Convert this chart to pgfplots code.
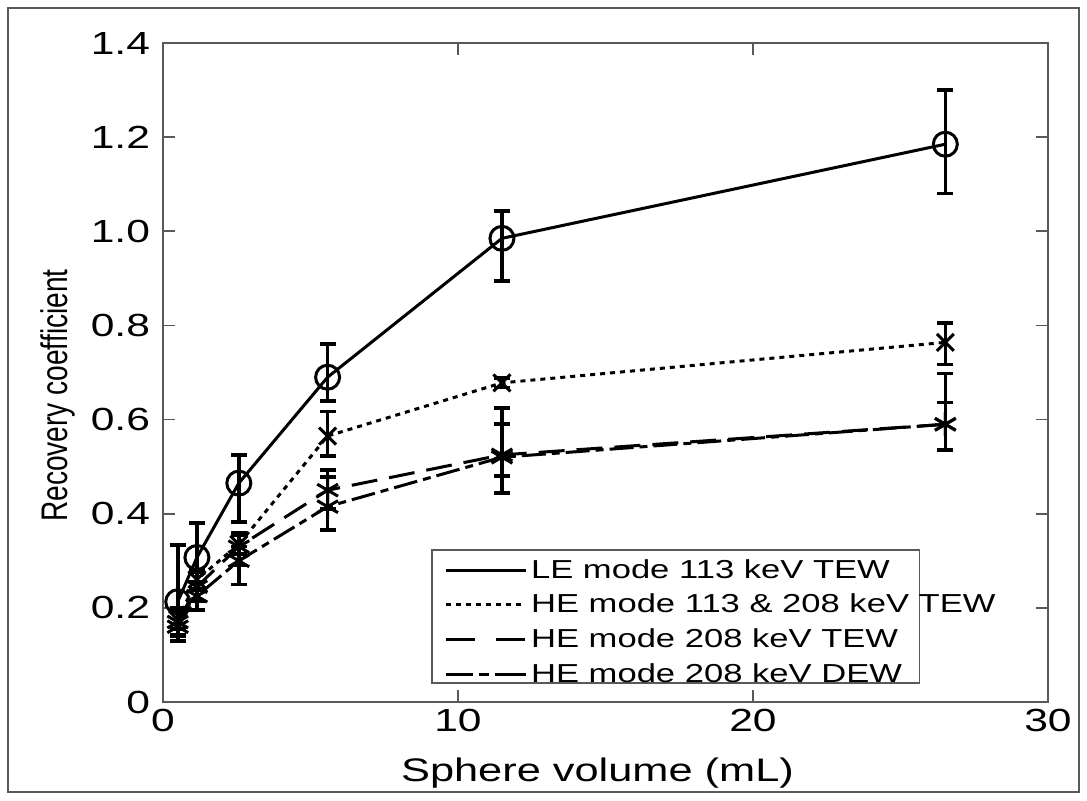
\documentclass[border=0pt]{standalone}
\usepackage{pgfplots}
\pgfplotsset{compat=1.18}
\usepackage{fontspec}
\setmainfont[FakeStretch=1.33]{Liberation Sans}
\newfontfamily\ylabfont[FakeStretch=0.76]{Liberation Sans}
\pgfplotsset{
  tewleg/.style={legend image code/.code={\draw[##1, dash pattern=on 14.5pt off 10.5pt] (0cm,0cm) -- (1.4cm,0cm);}},
  dewleg/.style={legend image code/.code={\draw[##1, dash pattern=on 13.5pt off 3pt on 5pt off 3pt on 16pt] (0cm,0cm) -- (1.4cm,0cm);}},
}
\begin{document}
\begin{tikzpicture}
\begin{axis}[
  scale only axis,
  width=442.5pt, height=329.5pt,
  xmin=0, xmax=30, ymin=0, ymax=1.4,
  xtick={0,10,20,30}, ytick={0,0.2,0.4,0.6,0.8,1.0,1.2,1.4},
  yticklabels={0,0.2,0.4,0.6,0.8,1.0,1.2,1.4},
  axis line style={gray!70!black, line width=0.8pt},
  tick style={gray!70!black, line width=0.8pt},
  tick align=inside, major tick length=6pt,
  minor tick num=0,
  /pgf/number format/assume math mode=true,
  ticklabel style={font=\fontsize{16}{18}\selectfont},
  yticklabel style={xshift=-3pt},
  xlabel={Sphere volume (mL)},
  ylabel={Recovery coefficient},
  xlabel style={font=\fontsize{16.3}{18}\selectfont, yshift=-6pt, xshift=-4pt},
  ylabel style={font=\ylabfont\fontsize{18.5}{20}\selectfont, at={(ticklabel cs:0.465)}, yshift=1pt},
  legend style={at={(0.304,0.231)}, anchor=north west, draw=none, fill=none,
    font=\fontsize{13}{15}\selectfont, row sep=2.5pt, inner xsep=6pt, inner ysep=2.5pt},
  legend cell align=left,
  legend image post style={mark=none},
  legend image code/.code={\draw[#1] (0cm,0cm) -- (1.4cm,0cm);},
  error bars/y dir=both, error bars/y explicit,
  error bars/error bar style={solid, line width=1.8pt},
  error bars/error mark options={rotate=90, mark size=4pt, line width=1.8pt, solid},
  every axis plot/.append style={black, line width=1.5pt},
]
\addplot[mark=o, mark size=6pt, mark options={solid, line width=1.5pt}] coordinates {
  (0.5,0.213) += (0,0.12) -= (0,0.07)
  (1.15,0.307) += (0,0.073) -= (0,0.07)
  (2.57,0.465) += (0,0.06) -= (0,0.083)
  (5.58,0.69) += (0,0.07) -= (0,0.05)
  (11.49,0.985) += (0,0.058) -= (0,0.09)
  (26.52,1.185) += (0,0.115) -= (0,0.105)
};
\addlegendentry{LE mode 113 keV TEW}
\addplot[dash pattern=on 2.5pt off 2.5pt, mark=x, mark size=6pt, mark options={solid, line width=1.5pt}] coordinates {
  (0.5,0.175) += (0,0.02) -= (0,0.02)
  (1.15,0.26) += (0,0.02) -= (0,0.02)
  (2.57,0.335) += (0,0.02) -= (0,0.02)
  (5.58,0.565) += (0,0.052) -= (0,0.042)
  (11.49,0.678) += (0,0.01) -= (0,0.01)
  (26.52,0.764) += (0,0.041) -= (0,0.047)
};
\addlegendentry{HE mode 113 \& 208 keV TEW}
\addplot[dash pattern=on 13pt off 6pt, mark=asterisk, mark size=6pt, mark options={solid, line width=1.5pt}, tewleg] coordinates {
  (0.5,0.17) += (0,0.03) -= (0,0.03)
  (1.15,0.245) += (0,0.03) -= (0,0.03)
  (2.57,0.33) += (0,0.03) -= (0,0.04)
  (5.58,0.45) += (0,0.043) -= (0,0.04)
  (11.49,0.525) += (0,0.10) -= (0,0.081)
  (26.52,0.59) += (0,0.108) -= (0,0.055)
};
\addlegendentry{HE mode 208 keV TEW}
\addplot[dash pattern=on 12pt off 3pt on 4pt off 3pt, mark=asterisk, mark size=6pt, mark options={solid, line width=1.5pt}, dewleg] coordinates {
  (0.5,0.16) += (0,0.03) -= (0,0.03)
  (1.15,0.225) += (0,0.03) -= (0,0.03)
  (2.57,0.30) += (0,0.03) -= (0,0.05)
  (5.58,0.415) += (0,0.063) -= (0,0.05)
  (11.49,0.52) += (0,0.07) -= (0,0.04)
  (26.52,0.59) += (0,0.046) -= (0,0.054)
};
\addlegendentry{HE mode 208 keV DEW}
\draw[gray!70!black, line width=0.8pt, fill=white] (rel axis cs:0.304,0.029) rectangle (rel axis cs:0.855,0.231);
\end{axis}
\path[use as bounding box] (-81.5pt,-49pt) rectangle (462pt,351pt);
\draw[gray!70!black, line width=0.8pt] (-77.5pt,-45pt) rectangle (458pt,347pt);
\end{tikzpicture}
\end{document}
